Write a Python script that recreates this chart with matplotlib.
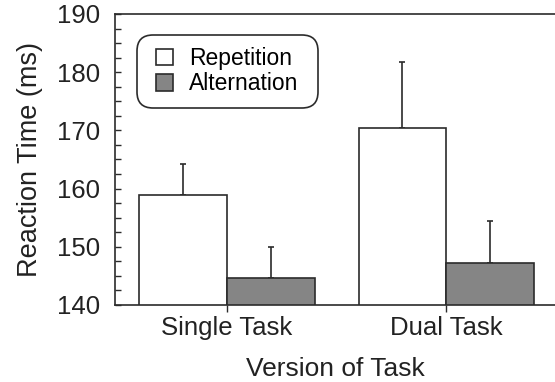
import matplotlib
matplotlib.use('Agg')
import matplotlib.pyplot as plt
import numpy as np
from matplotlib.ticker import MultipleLocator
from matplotlib.patches import FancyBboxPatch
from matplotlib.transforms import IdentityTransform

plt.rcParams['font.family'] = ['Liberation Sans', 'DejaVu Sans']

# data
tasks = ['Single Task', 'Dual Task']
repetition = [158.9, 170.4]
alternation = [144.7, 147.3]
rep_err = [5.4, 11.4]
alt_err = [5.3, 7.1]

ink = '#2b2b2b'
x = np.arange(len(tasks))
w = 0.4

fig = plt.figure(figsize=(5.55, 3.82), dpi=100)
ax = fig.add_axes([0.2072, 0.2016, 0.7946, 0.7618])

ax.bar(x - w/2, repetition, w, color='white', edgecolor=ink,
       linewidth=1.2, label='Repetition', zorder=2)
ax.bar(x + w/2, alternation, w, color='#858585', edgecolor=ink,
       linewidth=1.2, label='Alternation', zorder=2)
ax.errorbar(x - w/2, repetition, yerr=[np.zeros(2), rep_err], fmt='none',
            ecolor=ink, elinewidth=1.2, capsize=2, capthick=1.2, zorder=1)
ax.errorbar(x + w/2, alternation, yerr=[np.zeros(2), alt_err], fmt='none',
            ecolor=ink, elinewidth=1.2, capsize=2, capthick=1.2, zorder=1)

ax.set_ylim(140, 190)
ax.set_xlim(-0.51, 1.5)
ax.yaxis.set_major_locator(MultipleLocator(10))
ax.yaxis.set_minor_locator(MultipleLocator(2.5))
ax.set_xticks(x)
ax.set_xticklabels(tasks, fontsize=18.5, color='#222222')
ax.tick_params(axis='y', which='both', direction='in', length=4, width=1,
               colors=ink, labelsize=18.5, labelcolor='#222222', pad=11)
ax.tick_params(axis='x', direction='out', length=5, width=1, colors=ink,
               labelcolor='#222222', pad=3)

for s in ax.spines.values():
    s.set_color(ink)
    s.set_linewidth(1.2)
ax.spines['right'].set_visible(False)

ax.set_ylabel('Reaction Time (ms)', fontsize=19.5, color='#222222', labelpad=10)
ax.set_xlabel('Version of Task', fontsize=19, color='#222222', labelpad=12)

# rounded legend frame drawn separately (pixel coords)
frame = FancyBboxPatch((137, 274), 181, 73, boxstyle='round,pad=0,rounding_size=16',
                       transform=IdentityTransform(), facecolor='white',
                       edgecolor=ink, linewidth=1.2, zorder=4, clip_on=False)
ax.add_patch(frame)
leg = ax.legend(loc='upper left', bbox_to_anchor=(156, 335),
                bbox_transform=IdentityTransform(), fontsize=16.5,
                handlelength=0.75, handleheight=0.75, handletextpad=0.7,
                labelspacing=0.1, borderpad=0, borderaxespad=0, frameon=False)
leg.set_zorder(5)

fig.savefig('out.png', dpi=100)
